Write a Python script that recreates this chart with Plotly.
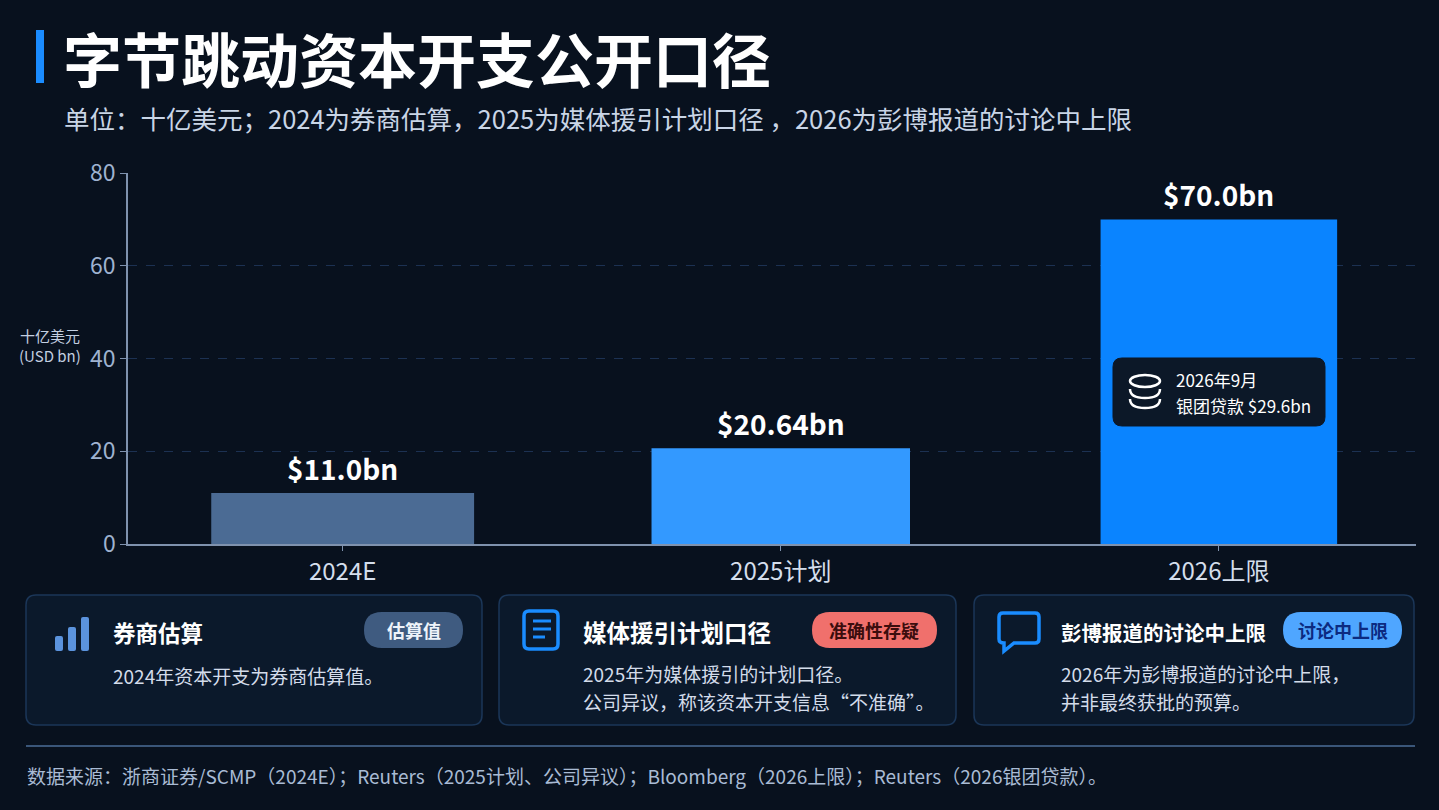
import plotly.graph_objects as go

# 数据
categories = ['2024E', '2025计划', '2026上限']
capex = [11.0, 20.64, 70.0]
capex_labels = ['$11.0bn', '$20.64bn', '$70.0bn']
y_ticks = [0, 20, 40, 60, 80]
loan_note = ['2026年9月', '银团贷款 $29.6bn']

card_titles = ['券商估算', '媒体援引计划口径', '彭博报道的讨论中上限']
card_bodies = [
    ['2024年资本开支为券商估算值。'],
    ['2025年为媒体援引的计划口径。', '公司异议，称该资本开支信息“不准确”。'],
    ['2026年为彭博报道的讨论中上限，', '并非最终获批的预算。'],
]
card_tags = ['估算值', '准确性存疑', '讨论中上限']

title = '字节跳动资本开支公开口径'
subtitle = '单位：十亿美元；2024为券商估算，2025为媒体援引计划口径 ，2026为彭博报道的讨论中上限'
source = '数据来源：浙商证券/SCMP（2024E）；Reuters（2025计划、公司异议）；Bloomberg（2026上限）；Reuters（2026银团贷款）。'

FONT = 'Noto Sans CJK SC'
BG = '#08111e'

# 绘图区像素范围，用于把像素位置换成 paper 坐标
L, R, T, B = 128, 1416, 173, 544


def px(x):
    return (x - L) / (R - L)


def py(y):
    return (B - y) / (B - T)


def path(cmds):
    s = ''
    for cmd, ps in cmds:
        s += cmd + ' ' + ' '.join(f'{px(a):.5f},{py(b):.5f}' for a, b in ps) + ' '
    return s


def rrect(x0, y0, x1, y1, r):
    # 圆角矩形路径（像素 -> paper）
    return path([
        ('M', [(x0 + r, y0)]),
        ('L', [(x1 - r, y0)]),
        ('Q', [(x1, y0), (x1, y0 + r)]),
        ('L', [(x1, y1 - r)]),
        ('Q', [(x1, y1), (x1 - r, y1)]),
        ('L', [(x0 + r, y1)]),
        ('Q', [(x0, y1), (x0, y1 - r)]),
        ('L', [(x0, y0 + r)]),
        ('Q', [(x0, y0), (x0 + r, y0)]),
    ]) + 'Z'


fig = go.Figure()

fig.add_trace(go.Bar(
    x=categories, y=capex,
    width=[0.6, 0.59, 0.54],
    marker=dict(color=['#4b6b94', '#3399ff', '#0a84ff'], line=dict(width=0)),
    hoverinfo='skip',
))

shapes = []
annotations = []

# 柱顶数值
for c, v, lab in zip(categories, capex, capex_labels):
    annotations.append(dict(
        x=c, y=v, xref='x', yref='y', text=f'<b>{lab}</b>', showarrow=False,
        yanchor='bottom', yshift=3, font=dict(family=FONT, size=28, color='#ffffff'),
    ))

# 标题
shapes.append(dict(type='rect', xref='paper', yref='paper',
                   x0=px(36), x1=px(44), y0=py(30), y1=py(83),
                   fillcolor='#1a8cff', line=dict(width=0)))
annotations.append(dict(xref='paper', yref='paper', x=px(61), y=py(57), xanchor='left', yanchor='middle',
                        text=f'<b>{title}</b>', showarrow=False,
                        font=dict(family=FONT, size=59, color='#ffffff')))
annotations.append(dict(xref='paper', yref='paper', x=px(62), y=py(117), xanchor='left', yanchor='middle',
                        text=subtitle, showarrow=False,
                        font=dict(family=FONT, size=25.5, color='#c9d5e6')))

# y 轴单位
annotations.append(dict(xref='paper', yref='paper', x=px(50), y=py(345), xanchor='center', yanchor='middle',
                        text='十亿美元<br>(USD bn)', showarrow=False, align='center',
                        font=dict(family=FONT, size=15, color='#c3cfe0')))

# 2026 银团贷款提示框
shapes.append(dict(type='path', xref='paper', yref='paper', path=rrect(1113, 358, 1325, 426, 9),
                   fillcolor='#0c1828', line=dict(color='#0c1828', width=1)))
shapes.append(dict(type='circle', xref='paper', yref='paper',
                   x0=px(1130), x1=px(1160), y0=py(375), y1=py(387),
                   line=dict(color='#ffffff', width=2.5)))
for yy in (389, 399):
    shapes.append(dict(type='path', xref='paper', yref='paper',
                       path=path([('M', [(1130, yy)]), ('Q', [(1130, yy + 9), (1145, yy + 9)]),
                                  ('Q', [(1160, yy + 9), (1160, yy)])]),
                       line=dict(color='#ffffff', width=2.5)))
for i, line in enumerate(loan_note):
    annotations.append(dict(xref='paper', yref='paper', x=px(1174), y=py(379 + 26 * i),
                            xanchor='left', yanchor='middle', text=line, showarrow=False,
                            font=dict(family=FONT, size=17, color='#ffffff')))

# 底部卡片
card_x = [(26, 482), (499, 956), (974, 1414)]
text_x = [111, 581, 1059]
title_size = [22.5, 23.5, 20.5]
tag_box = [(364, 463), (812, 937), (1283, 1402)]
tag_fill = ['#3f5b80', '#f0706c', '#4fa6ff']
tag_font = ['#eef3fa', '#3b0d0d', '#0c2a80']
body_y = [[675], [673, 701], [673, 701]]

for i in range(3):
    x0, x1 = card_x[i]
    shapes.append(dict(type='path', xref='paper', yref='paper', path=rrect(x0, 595, x1, 725, 10),
                       fillcolor='#0b192b', line=dict(color='#1b3658', width=1.5), layer='below'))
    annotations.append(dict(xref='paper', yref='paper', x=px(text_x[i]), y=py(632), xanchor='left',
                            yanchor='middle', text=f'<b>{card_titles[i]}</b>', showarrow=False,
                            font=dict(family=FONT, size=title_size[i], color='#ffffff')))
    for line, yy in zip(card_bodies[i], body_y[i]):
        annotations.append(dict(xref='paper', yref='paper', x=px(text_x[i]), y=py(yy), xanchor='left',
                                yanchor='middle', text=line, showarrow=False,
                                font=dict(family=FONT, size=19, color='#d3dcea')))
    tx0, tx1 = tag_box[i]
    shapes.append(dict(type='path', xref='paper', yref='paper', path=rrect(tx0, 612, tx1, 648, 18),
                       fillcolor=tag_fill[i], line=dict(width=0)))
    annotations.append(dict(xref='paper', yref='paper', x=px((tx0 + tx1) / 2), y=py(630), xanchor='center',
                            yanchor='middle', text=f'<b>{card_tags[i]}</b>', showarrow=False,
                            font=dict(family=FONT, size=18, color=tag_font[i])))

# 卡片图标：柱状
for bx0, bx1, by0 in [(55, 63, 636), (68, 76, 627), (81, 89, 617)]:
    shapes.append(dict(type='path', xref='paper', yref='paper', path=rrect(bx0, by0, bx1, 651, 2),
                       fillcolor='#5b93dd', line=dict(width=0)))
# 文档
shapes.append(dict(type='path', xref='paper', yref='paper', path=rrect(524, 611, 558, 649, 5),
                   line=dict(color='#1a8cff', width=3.5)))
for lx1, ly in [(551, 621), (551, 629), (545, 637)]:
    shapes.append(dict(type='line', xref='paper', yref='paper', x0=px(533), x1=px(lx1), y0=py(ly), y1=py(ly),
                       line=dict(color='#1a8cff', width=3)))
# 对话气泡
shapes.append(dict(type='path', xref='paper', yref='paper',
                   path=path([('M', [(1003, 613)]), ('L', [(1035, 613)]), ('Q', [(1039, 613), (1039, 617)]),
                              ('L', [(1039, 639)]), ('Q', [(1039, 643), (1035, 643)]),
                              ('L', [(1014, 643)]), ('L', [(1004, 651)]), ('L', [(1004, 643)]),
                              ('Q', [(999, 643), (999, 639)]), ('L', [(999, 617)]),
                              ('Q', [(999, 613), (1003, 613)])]) + 'Z',
                   line=dict(color='#1a8cff', width=3.5)))

# 分隔线与来源
shapes.append(dict(type='line', xref='paper', yref='paper', x0=px(26), x1=px(1415), y0=py(746), y1=py(746),
                   line=dict(color='#3a5679', width=2)))
annotations.append(dict(xref='paper', yref='paper', x=px(25), y=py(775), xanchor='left', yanchor='middle',
                        text=source, showarrow=False,
                        font=dict(family=FONT, size=19, color='#a9bbd4')))

fig.update_layout(
    width=1439, height=810,
    margin=dict(l=L, r=1439 - R, t=T, b=810 - B, pad=0),
    paper_bgcolor=BG, plot_bgcolor=BG,
    showlegend=False,
    font=dict(family=FONT),
    shapes=shapes,
    annotations=annotations,
    xaxis=dict(
        range=[-0.49, 2.45], showline=True, linecolor='#7f92ae', linewidth=1.5,
        ticks='outside', ticklen=5, tickcolor='#7f92ae', showgrid=False,
        tickfont=dict(family=FONT, size=24, color='#d4deec'), fixedrange=True,
    ),
    yaxis=dict(
        range=[0, 80], tickvals=y_ticks, showline=True, linecolor='#7f92ae', linewidth=1.5,
        ticks='outside', ticklen=6, tickcolor='#7f92ae', zeroline=False,
        showgrid=True, gridcolor='#1c3152', griddash='dash', gridwidth=1,
        tickfont=dict(family=FONT, size=23, color='#9fb3d0'), fixedrange=True,
    ),
    bargap=0.3,
)

# 去掉页面默认边距和工具栏
fig.write_html('out.html', config={'displayModeBar': False},
               post_script="document.body.style.margin='0';document.body.style.background='#08111e';")
